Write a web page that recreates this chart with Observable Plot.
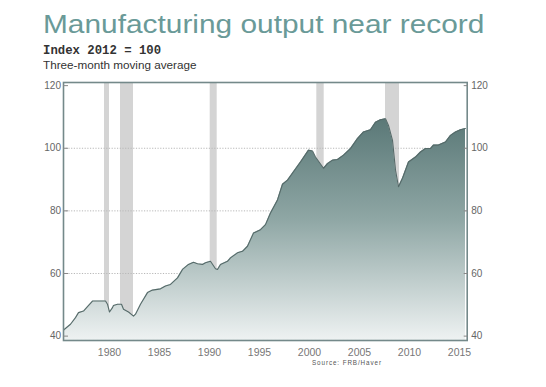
<!DOCTYPE html>
<html><head><meta charset="utf-8">
<script src="https://cdn.jsdelivr.net/npm/d3@7"></script>
<script src="https://cdn.jsdelivr.net/npm/@observablehq/plot@0.6"></script>
<style>
body{margin:0;background:#fff;width:546px;height:387px;overflow:hidden;font-family:"Liberation Sans",Arial,sans-serif;}
#wrap{position:relative;width:546px;height:387px;}
#header{position:relative;height:78px;}
.t{position:absolute;white-space:nowrap;line-height:1;transform-origin:0 0;}
#title{left:43px;top:11.5px;font-size:25.3px;color:#6a9a98;transform:scaleX(1.18);}
#sub{left:43px;top:44.6px;font-size:12.3px;font-weight:bold;color:#333;font-family:"Liberation Mono","DejaVu Sans Mono",monospace;}
#sub2{left:43px;top:60.5px;font-size:10px;color:#333;transform:scaleX(1.17);}
#source{left:312px;top:359.5px;font-size:6.3px;color:#555;letter-spacing:0.9px;}
</style></head>
<body><div id="wrap">
<div id="header">
<div class="t" id="title">Manufacturing output near record</div>
<div class="t" id="sub">Index 2012 = 100</div>
<div class="t" id="sub2">Three-month moving average</div>
</div>
<div id="chart"></div>
<div class="t" id="source">Source: FRB/Haver</div>
</div>
<script>
const years = [1975.4,1975.5,1976.1,1976.6,1976.9,1977.4,1977.8,1978.3,1979.6,1979.8,1980.0,1980.3,1980.4,1980.8,1981.2,1981.4,1981.9,1982.4,1982.6,1983.1,1983.8,1984.3,1985.1,1985.6,1986.1,1986.8,1987.1,1987.3,1987.9,1988.4,1988.8,1989.3,1989.6,1990.1,1990.6,1990.8,1991.1,1991.8,1992.1,1992.8,1993.3,1993.8,1994.4,1995.1,1995.6,1996.1,1996.8,1997.3,1997.8,1998.4,1999.1,1999.9,2000.3,2000.6,2001.4,2001.8,2002.3,2002.8,2003.4,2004.1,2004.8,2005.4,2006.1,2006.6,2007.1,2007.6,2007.9,2008.3,2008.6,2008.9,2009.3,2009.9,2010.6,2011.1,2011.6,2012.1,2012.4,2012.9,2013.6,2014.1,2014.6,2015.1,2015.6];
const output = [41.8,42.2,43.8,45.9,47.5,48.0,49.4,51.2,51.2,50.2,47.7,49.1,49.8,50.2,50.2,48.6,47.7,46.4,47.0,50.2,53.9,54.7,55.1,56.0,56.5,58.6,60.2,61.3,62.9,63.6,63.1,62.9,63.4,63.9,61.5,61.3,62.9,63.9,65.0,66.6,67.1,68.7,72.9,74.0,75.6,79.3,83.5,88.5,89.8,92.5,95.6,99.4,99.1,97.2,93.6,95.1,96.2,96.4,97.8,99.9,103.1,105.2,105.9,108.3,109.1,109.4,107.3,102.5,93.0,87.7,90.4,95.6,97.2,98.8,99.9,99.9,101.0,101.0,102.0,104.1,105.2,105.9,106.3];
const recessionStart = [1979.5,1981.1,1990.07,2000.73,2007.6];
const recessionEnd   = [1980.0,1982.4,1990.77,2001.47,2009.0];
const yTicks = [40,60,80,100,120];
const gridTicks = [60,80,100];
const xTicks = [1980,1985,1990,1995,2000,2005,2010,2015];

const data = years.map((y,i)=>({year:y,value:output[i]}));
const recessions = recessionStart.map((s,i)=>({start:s,end:recessionEnd[i]}));

const svg = Plot.plot({
  width:546, height:309,
  marginLeft:63, marginRight:79.3, marginTop:4, marginBottom:47,
  style:{fontFamily:"'Liberation Sans',Arial,sans-serif", fontSize:"10px", color:"#666", background:"transparent"},
  x:{domain:[1975.4,2015.77]},
  y:{domain:[38.6,121]},
  marks:[
    Plot.rect(recessions,{x1:"start",x2:"end",fill:"#d4d4d4"}),
    Plot.ruleY(gridTicks,{stroke:"#b8b8b8",strokeDasharray:"1.2,1.5",strokeWidth:1}),
    Plot.areaY(data,{x:"year",y1:38.6,y2:"value",fill:"url(#areaGrad)"}),
    Plot.line(data,{x:"year",y:"value",stroke:"#556a69",strokeWidth:1.1}),
    Plot.frame({stroke:"#74898a",strokeWidth:1.6}),
    Plot.axisY(yTicks,{anchor:"left",tickSize:0,tickPadding:2.5,label:null,fill:"#666",fontSize:10}),
    Plot.axisY(yTicks,{anchor:"left",tickSize:5,dx:5,tickFormat:()=>"",label:null,stroke:"#888"}),
    Plot.axisY(yTicks,{anchor:"right",tickSize:0,tickPadding:4,label:null,fill:"#666",fontSize:10}),
    Plot.axisY(yTicks,{anchor:"right",tickSize:4,dx:-4,tickFormat:()=>"",label:null,stroke:"#888"}),
    Plot.axisX(xTicks,{tickSize:0,tickPadding:8,tickFormat:d=>String(d),label:null,fill:"#777",fontSize:10.5})
  ]
});
const defs = d3.select(svg).insert("defs",":first-child");
const g = defs.append("linearGradient").attr("id","areaGrad").attr("x1",0).attr("y1",0).attr("x2",0).attr("y2",1);
g.append("stop").attr("offset","0%").attr("stop-color","#5a7877");
g.append("stop").attr("offset","45%").attr("stop-color","#8ea6a4");
g.append("stop").attr("offset","100%").attr("stop-color","#eef2f2");
document.getElementById("chart").appendChild(svg);
</script>
</body></html>
